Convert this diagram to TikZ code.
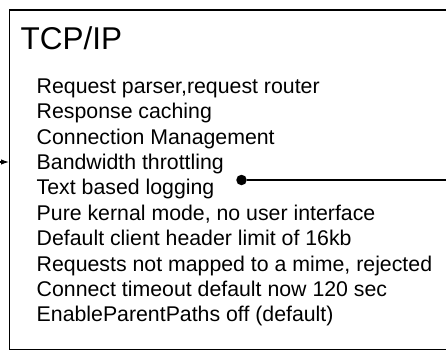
\documentclass[tikz,border=0pt]{standalone}
\usepackage{fontspec}
\setmainfont{Liberation Sans}
\usetikzlibrary{arrows.meta}
\begin{document}
\begin{tikzpicture}[x=1pt,y=-1pt,
  frame/.style={draw=black, line width=1.2pt, rectangle, inner sep=0pt, anchor=north west},
  titletext/.style={anchor=base west, inner sep=0pt, font=\fontsize{31.5}{36}\selectfont},
  itemtext/.style={anchor=base west, inner sep=0pt, font=\fontsize{21.3}{25}\selectfont, text=black},
  conn/.style={draw=black, line width=1.1pt},
  dotmark/.style={circle, fill=black, inner sep=0pt, minimum size=10.5pt}]
\useasboundingbox (0,0) rectangle (446,350);
\clip (0,0) rectangle (446,350);
\node[frame, minimum width=480pt, minimum height=339.5pt] (box) at (9,9.5) {};
\node[titletext] (title) at (20.5,49.3) {TCP/IP};
\foreach \t [count=\i] in {
  {Request parser,request router},
  {Response caching},
  {Connection Management},
  {Bandwidth throttling},
  {Text based logging},
  {Pure kernal mode, no user interface},
  {Default client header limit of 16kb},
  {Requests not mapped to a mime, rejected},
  {Connect timeout default now 120 sec},
  {EnableParentPaths off (default)}}
  \node[itemtext] (l\i) at (36.5,{93.3+25.4*(\i-1)}) {\t};
\coordinate (src) at (-10,162);
\draw[conn, -{Latex[length=8pt,width=5.5pt]}] (src) -- (box.west |- src);
\node[dotmark] (dot) at (241.5,180) {};
\coordinate (out) at (460,180);
\draw[conn] (dot) -- (out);
\end{tikzpicture}
\end{document}
